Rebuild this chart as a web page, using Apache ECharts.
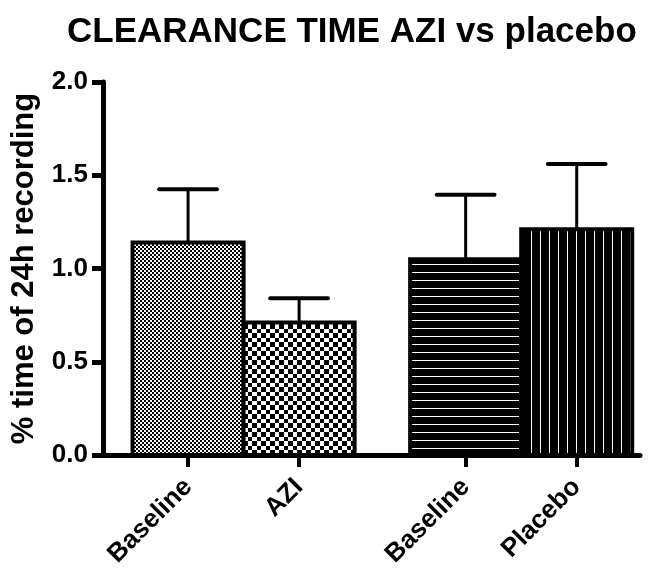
<!DOCTYPE html>
<html>
<head>
<meta charset="utf-8">
<script src="https://cdn.jsdelivr.net/npm/echarts@6/dist/echarts.min.js"></script>
<style>
  html, body { margin: 0; padding: 0; background: #fff; }
  #main { width: 658px; height: 577px; }
</style>
</head>
<body>
<div id="main"></div>
<script>
var myChart = echarts.init(document.getElementById('main'));

// data
var groups = ['Baseline', 'AZI', 'Baseline', 'Placebo'];
var means = [1.14, 0.71, 1.05, 1.21];
var sem = [0.285, 0.13, 0.345, 0.35];
var yTicks = [0, 0.5, 1.0, 1.5, 2.0];

// x slot of each bar (two pairs with a half-bar gap between them)
var slots = [1, 2, 3.5, 4.5];

var FONT = 'Liberation Sans, Arial, Helvetica, sans-serif';

function makePattern(w, h, draw) {
    var c = document.createElement('canvas');
    c.width = w;
    c.height = h;
    var ctx = c.getContext('2d');
    ctx.fillStyle = '#fff';
    ctx.fillRect(0, 0, w, h);
    draw(ctx);
    return { image: c, repeat: 'repeat' };
}

var patterns = [
    // fine checker
    makePattern(4, 4, function (ctx) {
        ctx.fillStyle = '#000';
        ctx.fillRect(0, 0, 2, 2);
        ctx.fillRect(2, 2, 2, 2);
    }),
    // coarse checker
    makePattern(9, 9, function (ctx) {
        ctx.fillStyle = '#000';
        ctx.fillRect(0, 0, 5, 5);
        ctx.fillRect(5, 5, 4, 4);
    }),
    // horizontal stripes
    makePattern(8, 8, function (ctx) {
        ctx.fillStyle = '#000';
        ctx.fillRect(0, 1, 8, 7);
    }),
    // vertical stripes
    makePattern(9, 8, function (ctx) {
        ctx.fillStyle = '#000';
        ctx.fillRect(1, 0, 8, 8);
    })
];

var barData = [];
for (var i = 0; i < groups.length; i++) {
    barData.push([slots[i], means[i], sem[i], i]);
}

function renderBar(params, api) {
    var x = api.value(0);
    var y = api.value(1);
    var e = api.value(2);
    var idx = api.value(3);
    var top = api.coord([x, y]);
    var base = api.coord([x, 0]);
    var cap = api.coord([x, y + e]);
    var w = api.size([1, 0])[0];
    var half = w * 0.26;
    return {
        type: 'group',
        children: [{
            type: 'line',
            shape: { x1: top[0], y1: top[1], x2: cap[0], y2: cap[1] },
            style: { stroke: '#000', lineWidth: 3 }
        }, {
            type: 'line',
            shape: { x1: cap[0] - half, y1: cap[1], x2: cap[0] + half, y2: cap[1] },
            style: { stroke: '#000', lineWidth: 4, lineCap: 'round' }
        }, {
            type: 'rect',
            shape: { x: top[0] - w / 2, y: top[1], width: w, height: base[1] - top[1] },
            style: { fill: patterns[idx], stroke: '#000', lineWidth: 4 }
        }]
    };
}

option = {
    animation: false,
    backgroundColor: '#fff',
    title: {
        text: 'CLEARANCE TIME AZI vs placebo',
        left: 62,
        top: 10,
        textStyle: {
            fontFamily: FONT,
            fontWeight: 'bold',
            fontSize: 35,
            color: '#000'
        }
    },
    grid: {
        left: 103,
        right: 18,
        top: 82,
        bottom: 122,
        containLabel: false,
        outerBoundsMode: 'none'
    },
    xAxis: {
        type: 'value',
        min: 0.234,
        max: 5.07,
        splitLine: { show: false },
        axisLine: { lineStyle: { color: '#000', width: 5 } },
        axisTick: {
            customValues: slots,
            length: 12,
            lineStyle: { color: '#000', width: 4 }
        },
        axisLabel: {
            customValues: slots,
            rotate: 45,
            margin: 28,
            color: '#000',
            fontFamily: FONT,
            fontWeight: 'bold',
            fontSize: 26,
            formatter: function (v) {
                var k = slots.indexOf(v);
                return k >= 0 ? groups[k] : '';
            }
        }
    },
    yAxis: {
        type: 'value',
        min: 0,
        max: 2,
        interval: 0.5,
        name: '% time of 24h recording',
        nameLocation: 'middle',
        nameGap: 63,
        nameTextStyle: {
            color: '#000',
            fontFamily: FONT,
            fontWeight: 'bold',
            fontSize: 31
        },
        splitLine: { show: false },
        axisLine: { show: true, lineStyle: { color: '#000', width: 5 } },
        axisTick: {
            show: true,
            length: 11,
            lineStyle: { color: '#000', width: 5 }
        },
        axisLabel: {
            margin: 15,
            color: '#000',
            fontFamily: FONT,
            fontWeight: 'bold',
            fontSize: 26,
            formatter: function (v) {
                return yTicks.indexOf(v) >= 0 ? v.toFixed(1) : '';
            }
        }
    },
    series: [{
        type: 'custom',
        renderItem: renderBar,
        encode: { x: 0, y: 1 },
        data: barData,
        z: 1
    }]
};

myChart.setOption(option);
</script>
</body>
</html>
